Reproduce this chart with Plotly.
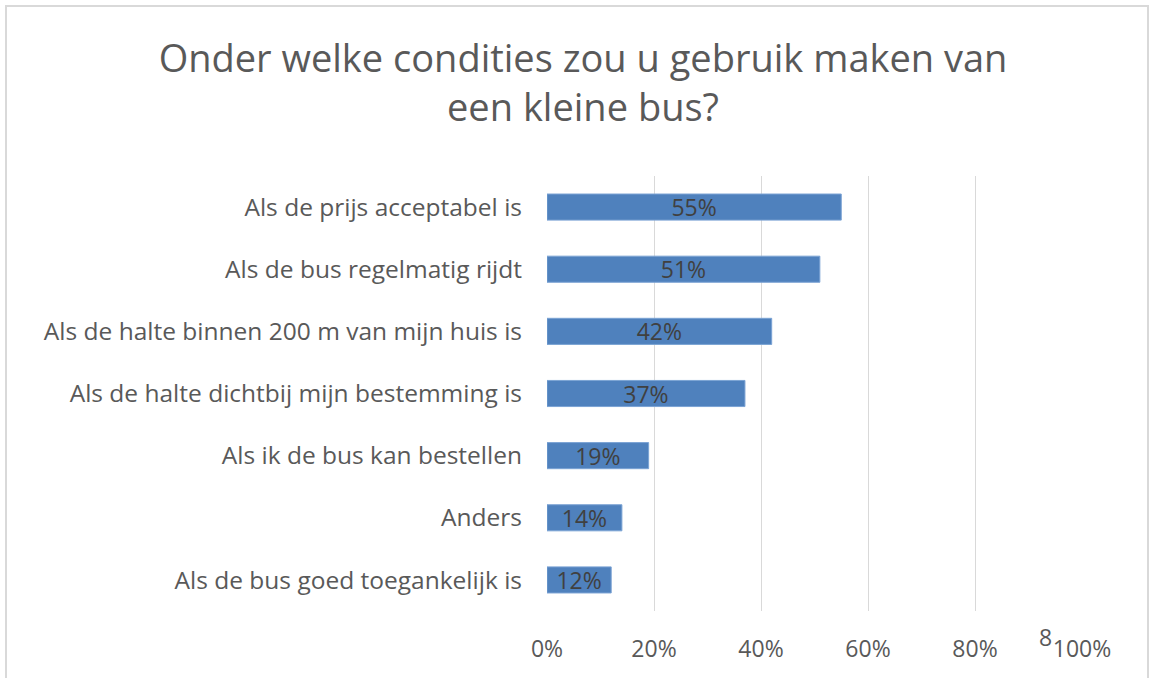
import plotly.graph_objects as go

categories = [
    "Als de prijs acceptabel is",
    "Als de bus regelmatig rijdt",
    "Als de halte binnen 200 m van mijn huis is",
    "Als de halte dichtbij mijn bestemming is",
    "Als ik de bus kan bestellen",
    "Anders",
    "Als de bus goed toegankelijk is",
]
values = [0.55, 0.51, 0.42, 0.37, 0.19, 0.14, 0.12]
labels = ["55%", "51%", "42%", "37%", "19%", "14%", "12%"]
tick_vals = [0, 0.2, 0.4, 0.6, 0.8, 1.0]
tick_text = ["0%", "20%", "40%", "60%", "80%", "100%"]

W, H = 1157, 678
L, R, T, B = 547, 1082, 176, 611
FONT = "Open Sans"

fig = go.Figure(go.Bar(
    x=values, y=categories, orientation="h",
    text=labels, textposition="inside", insidetextanchor="middle",
    constraintext="none", cliponaxis=False,
    textfont=dict(family=FONT, size=23, color="#404040"),
    marker=dict(color="#4F81BD", line=dict(color="#7BA3D4", width=1)),
    width=0.42, hoverinfo="skip",
))

fig.update_layout(
    width=W, height=H,
    margin=dict(l=L, r=W - R, t=T, b=H - B, autoexpand=False),
    paper_bgcolor="white", plot_bgcolor="white",
    showlegend=False,
    title=dict(
        text="Onder welke condities zou u gebruik maken van<br>een kleine bus?",
        x=583 / W, xanchor="center", y=1 - 72 / H, yanchor="middle",
        font=dict(family=FONT, size=38, color="#595959"),
    ),
    font=dict(family=FONT, color="#595959"),
)
fig.update_xaxes(
    range=[0, 1.0], tickvals=tick_vals, ticktext=tick_text,
    showgrid=True, gridcolor="#D9D9D9", gridwidth=1,
    zeroline=False, showline=False, automargin=False,
    tickfont=dict(family=FONT, size=23, color="#595959"),
    ticks="", ticklabelstandoff=22, fixedrange=True,
)
fig.update_yaxes(
    autorange="reversed", showgrid=False, zeroline=False, showline=False,
    automargin=False,
    tickfont=dict(family=FONT, size=24.5, color="#595959"),
    ticks="", ticklabelstandoff=24,
)

# stray "8" near 100% label
fig.add_annotation(
    xref="paper", yref="paper",
    x=(1045 - L) / (R - L), y=(B - 637) / (B - T),
    text="8", showarrow=False, xanchor="center", yanchor="middle",
    font=dict(family=FONT, size=23, color="#595959"),
)

# outer chart frame
fig.add_shape(
    type="rect", xref="paper", yref="paper",
    x0=(6 - L) / (R - L), x1=(1148 - L) / (R - L),
    y0=(B - 690) / (B - T), y1=(B - 6) / (B - T),
    line=dict(color="#D9D9D9", width=2), fillcolor="rgba(0,0,0,0)",
    layer="below",
)

fig.write_html(
    "out.html",
    config={"displayModeBar": False, "staticPlot": True},
    post_script="document.body.style.margin='0';document.body.style.overflow='hidden';",
)
